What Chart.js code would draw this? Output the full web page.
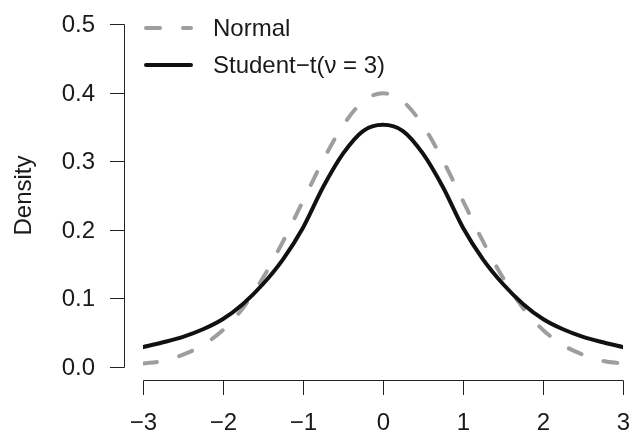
<!DOCTYPE html>
<html>
<head>
<meta charset="utf-8">
<script src="https://cdn.jsdelivr.net/npm/chart.js@4"></script>
<style>
  html, body { margin: 0; padding: 0; background: #fff; }
  #box { width: 630px; height: 434px; }
</style>
</head>
<body>
<div id="box"><canvas id="grafico"></canvas></div>
<script>
// Pontos das duas densidades
const xs = [-3, -2.75, -2.5, -2.25, -2, -1.75, -1.5, -1.25, -1, -0.75, -0.5, -0.25, 0,
            0.25, 0.5, 0.75, 1, 1.25, 1.5, 1.75, 2, 2.25, 2.5, 2.75, 3];
const normal = [0.005, 0.009, 0.018, 0.032, 0.054, 0.086, 0.130, 0.183, 0.242, 0.301, 0.352, 0.387, 0.399,
                0.387, 0.352, 0.301, 0.242, 0.183, 0.130, 0.086, 0.054, 0.032, 0.018, 0.009, 0.005];
const studentT = [0.029, 0.036, 0.044, 0.055, 0.070, 0.092, 0.121, 0.157, 0.203, 0.262, 0.311, 0.344, 0.353,
                  0.344, 0.311, 0.262, 0.203, 0.157, 0.121, 0.092, 0.070, 0.055, 0.044, 0.036, 0.029];

const xTicks = [-3, -2, -1, 0, 1, 2, 3];
const xLabels = ['−3', '−2', '−1', '0', '1', '2', '3'];
const yTicks = [0, 0.1, 0.2, 0.3, 0.4, 0.5];
const yLabels = ['0.0', '0.1', '0.2', '0.3', '0.4', '0.5'];
const nomes = ['Normal', 'Student−t(ν = 3)'];

const fonte = '24px "Liberation Sans", Arial, sans-serif';
const cinza = '#9e9e9e';
const preto = '#111111';

// Eixos e legenda no estilo do R (eixos afastados da área do gráfico)
const eixosR = {
  id: 'eixosR',
  afterDraw(chart) {
    const c = chart.ctx;
    const sx = chart.scales.x, sy = chart.scales.y;
    const px = v => Math.round(sx.getPixelForValue(v)) + 0.5;
    const py = v => Math.round(sy.getPixelForValue(v)) + 0.5;
    c.save();
    c.strokeStyle = '#222';
    c.lineWidth = 1;
    c.fillStyle = '#1a1a1a';
    c.font = fonte;

    // eixo y
    const ax = 124.5;
    c.beginPath();
    c.moveTo(ax, py(yTicks[0]));
    c.lineTo(ax, py(yTicks[yTicks.length - 1]));
    yTicks.forEach(v => { c.moveTo(ax, py(v)); c.lineTo(110, py(v)); });
    c.stroke();
    c.textAlign = 'right';
    c.textBaseline = 'middle';
    yTicks.forEach((v, i) => c.fillText(yLabels[i], 95, py(v) + 1));

    // eixo x
    const ay = 380.5;
    c.beginPath();
    c.moveTo(px(xTicks[0]), ay);
    c.lineTo(px(xTicks[xTicks.length - 1]), ay);
    xTicks.forEach(v => { c.moveTo(px(v), ay); c.lineTo(px(v), 395); });
    c.stroke();
    c.textAlign = 'center';
    xTicks.forEach((v, i) => c.fillText(xLabels[i], px(v), 423));

    // título do eixo y
    c.save();
    c.translate(24, (chart.chartArea.top + chart.chartArea.bottom) / 2);
    c.rotate(-Math.PI / 2);
    c.fillText('Density', 0, 0);
    c.restore();

    // legenda
    c.lineWidth = 4;
    c.lineCap = 'round';
    c.strokeStyle = cinza;
    c.setLineDash([14, 23]);
    c.beginPath(); c.moveTo(146, 28); c.lineTo(191, 28); c.stroke();
    c.setLineDash([]);
    c.strokeStyle = preto;
    c.beginPath(); c.moveTo(146, 65); c.lineTo(191, 65); c.stroke();
    c.textAlign = 'left';
    c.fillText(nomes[0], 213, 29);
    c.fillText(nomes[1], 213, 66);
    c.restore();
  }
};

const ctx = document.getElementById('grafico');
new Chart(ctx, {
  type: 'line',
  data: {
    datasets: [
      {
        label: nomes[0],
        data: xs.map((x, i) => ({ x: x, y: normal[i] })),
        borderColor: cinza,
        borderWidth: 4,
        borderDash: [14, 23],
        borderCapStyle: 'round',
        pointRadius: 0,
        cubicInterpolationMode: 'monotone',
        order: 1
      },
      {
        label: nomes[1],
        data: xs.map((x, i) => ({ x: x, y: studentT[i] })),
        borderColor: preto,
        borderWidth: 4,
        borderCapStyle: 'round',
        pointRadius: 0,
        cubicInterpolationMode: 'monotone',
        order: 0
      }
    ]
  },
  options: {
    responsive: true,
    maintainAspectRatio: false,
    animation: false,
    layout: { padding: { left: 143, right: 7, top: 24, bottom: 67 } },
    plugins: { legend: { display: false }, tooltip: { enabled: false } },
    scales: {
      x: { type: 'linear', min: -3, max: 3, display: false },
      y: { min: 0, max: 0.5, display: false }
    }
  },
  plugins: [eixosR]
});
</script>
</body>
</html>
